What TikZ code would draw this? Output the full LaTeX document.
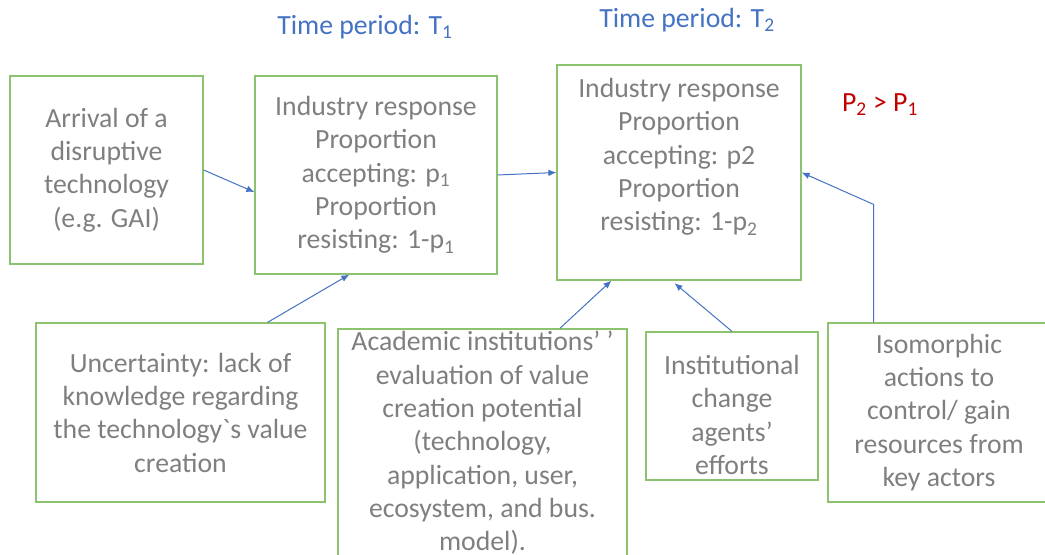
\documentclass[tikz,border=0pt]{standalone}
\usepackage{fontspec}
\setmainfont{Carlito}
\usepackage{tikz}
\usetikzlibrary{arrows.meta,positioning}
\definecolor{boxgreen}{RGB}{141,194,110}
\definecolor{txtgray}{RGB}{127,127,127}
\definecolor{linkblue}{RGB}{68,114,196}
\definecolor{darkred}{RGB}{192,0,0}
\tikzset{main box/.style={rectangle,draw=boxgreen,line width=0.9pt,inner sep=0pt,align=center,text=txtgray},
  box text/.style={align=center,text=txtgray,inner sep=0pt},
  period/.style={text=linkblue,inner sep=0pt},
  link/.style={color=linkblue,line width=0.75pt,-{Latex[length=6pt,width=5pt]}},
}

\begin{document}
\begin{tikzpicture}[x=0.75pt,y=-0.75pt,font=\fontsize{20.8}{25}\selectfont]
			\useasboundingbox (0,0) rectangle (1045,555);
			
			%% top row
			\node[main box,minimum width=193*0.75pt,minimum height=188*0.75pt] (a) at (106.5,170)
			{Arrival of a\\disruptive\\technology\\(e.g. GAI)};
			\node[main box,minimum width=242*0.75pt,minimum height=198*0.75pt] (t1) at (376,175)
			{Industry response\\Proportion\\accepting: p\textsubscript{1}\\Proportion\\resisting: 1-p\textsubscript{1}};
			\node[main box,minimum width=244*0.75pt,minimum height=215*0.75pt] (t2) at (679,172.5) {};
			\node[box text] (t2 text) at (679,157)
			{Industry response\\Proportion\\accepting: p2\\Proportion\\resisting: 1-p\textsubscript{2}};
			
			\node[period] (p1) at (365,27) {Time period: T\textsubscript{1}};
			\node[period] (p2) at (687,20) {Time period: T\textsubscript{2}};
			\node[inner sep=0pt,text=darkred] (cmp) at (880,105) {P\textsubscript{2} > P\textsubscript{1}};
			
			%% bottom row
			\node[main box,minimum width=289*0.75pt,minimum height=179*0.75pt] (u) at (180.5,412.5)
			{Uncertainty: lack of\\knowledge regarding\\the technology\textasciigrave s value\\creation};
			\node[main box,minimum width=289*0.75pt,minimum height=228*0.75pt] (ac) at (482.5,443)
			{Academic institutions’ ’\\evaluation of value\\creation potential\\(technology,\\application, user,\\ecosystem, and bus.\\model).};
			\node[main box,minimum width=172*0.75pt,minimum height=148*0.75pt] (in) at (732,406) {};
			\node[box text] (in text) at (732,415)
			{Institutional\\change\\agents’\\efforts};
			\node[main box,minimum width=222*0.75pt,minimum height=179*0.75pt] (iso) at (939,412.5)
			{Isomorphic\\actions to\\control/ gain\\resources from\\key actors};
			
			%% links
			\draw[link] (a.east) -- (t1.188);
			\draw[link] (t1.east) -- (t2.west);
			\draw[link] (u.46.6) -- (t1.255);
			\draw[link] (ac.56.5) -- (t2.238);
			\draw[link,shorten >=3pt] (in.north) -- (t2.266.8);
			\draw[link] (iso.126.4) -- ++(0,-118) -- (t2.east);
\end{tikzpicture}
\end{document}
